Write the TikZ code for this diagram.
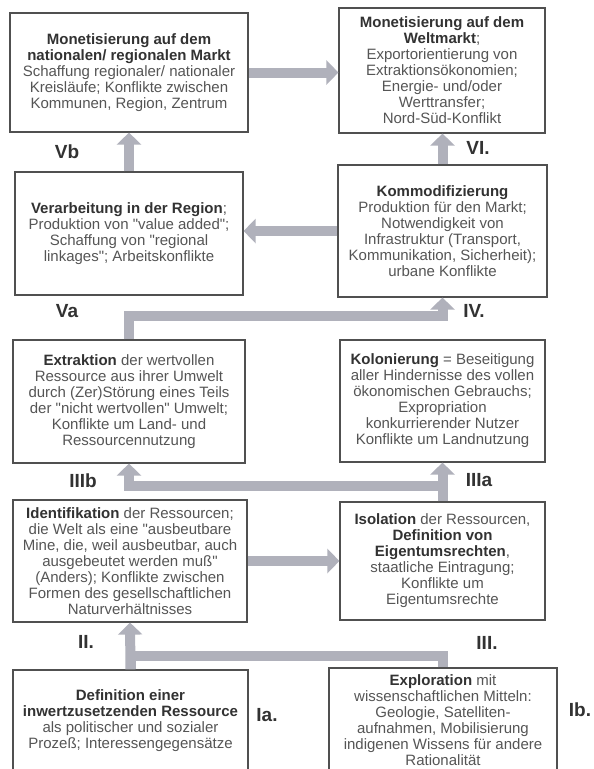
\documentclass[tikz,border=0pt]{standalone}
\usepackage{fontspec}
\setmainfont{Liberation Sans}[Ligatures=TeXOff]
\usepackage{xcolor}
\usetikzlibrary{arrows.meta}
\definecolor{dgray}{RGB}{50,50,50}
\definecolor{tgray}{RGB}{85,85,85}
\definecolor{agray}{RGB}{176,177,187}
\definecolor{bgray}{RGB}{80,80,80}
\newcommand{\hd}[1]{\textbf{\textcolor{dgray}{#1}}}

\begin{document}
\begin{tikzpicture}[x=1pt, y=-1pt,
  box/.style={rectangle, draw=bgray, line width=1.2pt, align=center,
              text=tgray, font=\fontsize{15}{16}\selectfont, inner sep=4pt},
  arr/.style={-{Triangle[length=12pt, width=24pt]}, agray, line width=10pt,
              line join=miter},
  shaft/.style={agray, line width=10pt, line join=miter},
  tag/.style={font=\fontsize{19}{19}\bfseries\selectfont, text=dgray}
]
  \fill[white] (0,0) rectangle (594,769);
  \path[use as bounding box, clip] (0,0) rectangle (594,769);

  \node[box, minimum width=238pt, minimum height=119pt] (monnat) at (129,72.5)
    {\hd{Monetisierung auf dem}\\ \hd{nationalen/ regionalen Markt}\\
     Schaffung regionaler/ nationaler\\ Kreisläufe; Konflikte zwischen\\
     Kommunen, Region, Zentrum};

  \node[box, minimum width=206pt, minimum height=125pt] (monwelt) at (442,70.5)
    {\hd{Monetisierung auf dem}\\ \hd{Weltmarkt};\\ Exportorientierung von\\
     Extraktionsökonomien;\\ Energie- und/oder\\ Werttransfer;\\
     Nord-Süd-Konflikt};

  \node[box, minimum width=228pt, minimum height=123pt] (verarb) at (129,233.5)
    {\hd{Verarbeitung in der Region};\\ Produktion von "value added";\\
     Schaffung von "regional\\ linkages"; Arbeitskonflikte};

  \node[box, minimum width=209pt, minimum height=132pt] (kommod) at (442.5,231)
    {\hd{Kommodifizierung}\\ Produktion für den Markt;\\ Notwendigkeit von\\
     Infrastruktur (Transport,\\ Kommunikation, Sicherheit);\\ urbane Konflikte};

  \node[box, minimum width=232pt, minimum height=123pt] (extrakt) at (129,401.5)
    {\hd{Extraktion} der wertvollen\\ Ressource aus ihrer Umwelt\\
     durch (Zer)Störung eines Teils\\ der "nicht wertvollen" Umwelt;\\
     Konflikte um Land- und\\ Ressourcennutzung};

  \node[box, minimum width=205pt, minimum height=122pt] (kolon) at (442.5,401)
    {\hd{Kolonierung} = Beseitigung\\ aller Hindernisse des vollen\\
     ökonomischen Gebrauchs;\\ Expropriation\\ konkurrierender Nutzer\\
     Konflikte um Landnutzung};

  \node[box, minimum width=234pt, minimum height=122pt] (ident) at (130,561)
    {\hd{Identifikation} der Ressourcen;\\ die Welt als eine "ausbeutbare\\
     Mine, die, weil ausbeutbar, auch\\ ausgebeutet werden muß"\\
     (Anders); Konflikte zwischen\\ Formen des gesellschaftlichen\\
     Naturverhältnisses};

  \node[box, minimum width=205pt, minimum height=118pt] (isol) at (442.5,561)
    {\hd{Isolation} der Ressourcen,\\ \hd{Definition von}\\
     \hd{Eigentumsrechten},\\ staatliche Eintragung;\\ Konflikte um\\
     Eigentumsrechte};

  \node[box, minimum width=235pt, minimum height=102pt] (defin) at (130.5,721)
    {\hd{Definition einer}\\ \hd{inwertzusetzenden Ressource}\\
     als politischer und sozialer\\ Prozeß; Interessengegensätze};

  \node[box, minimum width=228pt, minimum height=104pt] (explor) at (443,720)
    {\hd{Exploration} mit\\ wissenschaftlichen Mitteln:\\ Geologie, Satelliten-\\
     aufnahmen, Mobilisierung\\ indigenen Wissens für andere\\ Rationalität};

  \node[tag] (tvb) at (67,152) {Vb};
  \node[tag] (tvi) at (478,148) {VI.};
  \node[tag] (tva) at (67,311) {Va};
  \node[tag] (tiv) at (474,311) {IV.};
  \node[tag] (tiiib) at (83,481) {IIIb};
  \node[tag] (tiiia) at (479,480) {IIIa};
  \node[tag] (tii) at (86,642) {II.};
  \node[tag] (tiii) at (487,643) {III.};
  \node[tag] (tia) at (267,715) {Ia.};
  \node[tag] (tib) at (580,710) {Ib.};

  \draw[arr] (monnat.east) -- (monnat.east -| monwelt.west);
  \draw[arr] (verarb.north) -- (verarb.north |- monnat.south);
  \draw[arr] (kommod.north) -- (kommod.north |- monwelt.south);
  \draw[arr] (kommod.west) -- (kommod.west -| verarb.east);
  \draw[arr] (extrakt.north) -- ++(0,-23) -| (kommod.south);
  \draw[arr] (isol.north) -- (kolon.south);
  \draw[arr] (isol.north) ++(0,-15) -| (extrakt.south);
  \draw[arr] (ident.east) -- (ident.east -| isol.west);
  \draw[arr] (defin.north) -- (ident.south);
  \draw[shaft] (explor.north) -- ++(0,-11) -| (defin.north);

\end{tikzpicture}
\end{document}
